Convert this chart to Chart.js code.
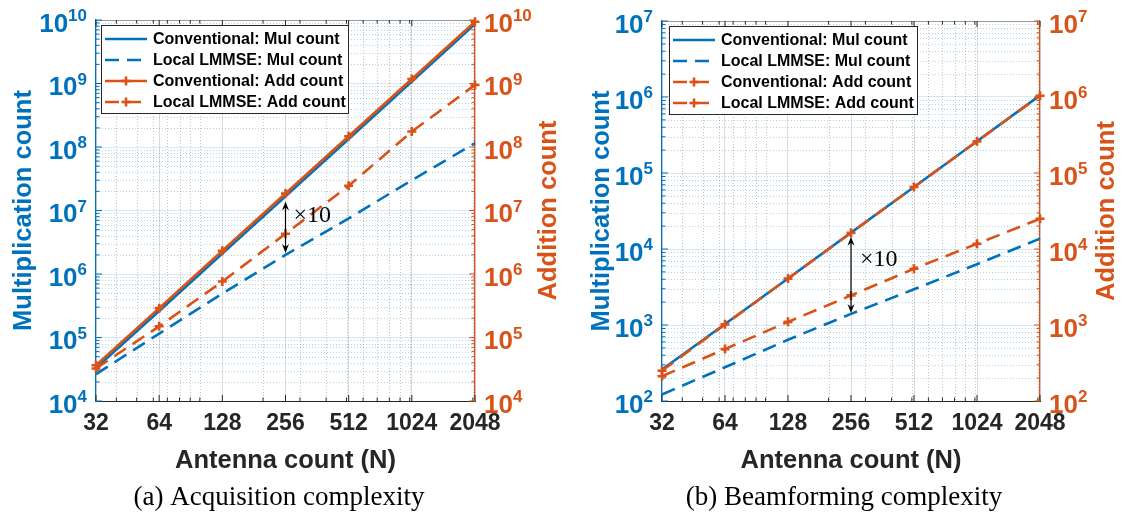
<!DOCTYPE html>
<html lang="en">
  <head>
    <meta charset="utf-8" />
    <title>Acquisition and beamforming complexity</title>
    <style>
      * {
        margin: 0;
        padding: 0;
      }
      body {
        width: 1124px;
        height: 516px;
        background: #fff;
        overflow: hidden;
      }
      .row {
        display: flex;
      }
      canvas {
        display: block;
      }
    </style>
  </head>
  <body>
    <div class="row">
      <canvas id="acq" width="562" height="516"></canvas>
      <canvas id="bf" width="562" height="516"></canvas>
    </div>

    <script src="https://cdn.jsdelivr.net/npm/chart.js@4"></script>

    <script>
      // data block
      const antennaCounts = [32, 64, 128, 256, 512, 1024, 2048];
      const seriesNames = [
        "Conventional: Mul count",
        "Local LMMSE: Mul count",
        "Conventional: Add count",
        "Local LMMSE: Add count",
      ];

      // (a) acquisition
      const acqConvMul = [3.3e4, 2.62e5, 2.1e6, 1.68e7, 1.34e8, 1.07e9, 8.6e9];
      const acqLocalMul = [2.65e4, 1.15e5, 4.9e5, 2.0e6, 7.5e6, 3.0e7, 1.15e8];
      const acqConvAdd = [3.65e4, 2.9e5, 2.32e6, 1.85e7, 1.48e8, 1.18e9, 9.4e9];
      const acqLocalAdd = [3.25e4, 1.5e5, 7.6e5, 4.3e6, 2.45e7, 1.75e8, 9.5e8];
      const acqYTicks = [1e4, 1e5, 1e6, 1e7, 1e8, 1e9, 1e10];

      // (b) beamforming
      const bfConvMul = [260, 1030, 4100, 16400, 65500, 262000, 1.05e6];
      const bfLocalMul = [122, 278, 640, 1400, 2950, 6300, 13700];
      const bfConvAdd = [250, 1020, 4080, 16300, 65300, 261000, 1.04e6];
      const bfLocalAdd = [212, 482, 1100, 2450, 5500, 11700, 25000];
      const bfYTicks = [1e2, 1e3, 1e4, 1e5, 1e6, 1e7];

      // style block
      const FONT = '"Liberation Sans", Arial, sans-serif';
      const SERIF = '"Liberation Serif", "Times New Roman", serif';
      const BLUE = "#0072BD";
      const ORANGE = "#D95319";
      const DARK = "#262626";
      const DASH = [14, 8];
      const LW = 2.6;
      const minorX = [40, 50, 60, 70, 80, 90, 100, 200, 300, 400, 500, 600, 700, 800, 900, 1000, 2000];

      const minorY = (ticks) => {
        const out = [];
        for (let i = 0; i < ticks.length - 1; i++) {
          for (let m = 2; m <= 9; m++) out.push(m * ticks[i]);
        }
        return out;
      };

      const line = (ctx, x0, y0, x1, y1) => {
        ctx.beginPath();
        ctx.moveTo(x0, y0);
        ctx.lineTo(x1, y1);
        ctx.stroke();
      };

      // 10^k label with a raised exponent
      const drawPow = (ctx, value, x, y, align, color) => {
        const base = "10";
        const sup = String(Math.round(Math.log10(value)));
        ctx.fillStyle = color;
        ctx.textAlign = "left";
        ctx.textBaseline = "alphabetic";
        ctx.font = `bold 26px ${FONT}`;
        const bw = ctx.measureText(base).width;
        ctx.font = `bold 17px ${FONT}`;
        const sw = ctx.measureText(sup).width;
        const x0 = align === "right" ? x - bw - sw : x;
        ctx.font = `bold 26px ${FONT}`;
        ctx.fillText(base, x0, y + 11.5);
        ctx.font = `bold 17px ${FONT}`;
        ctx.fillText(sup, x0 + bw, y + 1);
      };

      const arrowHead = (ctx, x, y, dir) => {
        ctx.beginPath();
        ctx.moveTo(x, y);
        ctx.lineTo(x - 3.5, y - dir * 9);
        ctx.lineTo(x, y - dir * 6);
        ctx.lineTo(x + 3.5, y - dir * 9);
        ctx.closePath();
        ctx.fill();
      };

      // decoration plugin: minor grid, inward ticks, labels, legend, arrow
      const decor = {
        id: "decor",
        beforeDatasetsDraw(chart, args, opts) {
          const {
            ctx,
            chartArea: { left, right, top, bottom },
            scales: { x, y, y1 },
          } = chart;
          ctx.save();
          ctx.lineWidth = 1;
          ctx.setLineDash([1, 2]);
          ctx.strokeStyle = "rgba(38,38,38,0.28)";
          minorX.forEach((v) => {
            const px = Math.round(x.getPixelForValue(v)) + 0.5;
            line(ctx, px, top, px, bottom);
          });
          ctx.strokeStyle = "rgba(0,114,189,0.3)";
          minorY(opts.yTicks).forEach((v) => {
            const py = Math.round(y.getPixelForValue(v)) + 0.5;
            line(ctx, left, py, right, py);
          });
          ctx.setLineDash([]);

          // top box line
          ctx.strokeStyle = "#9a9a9a";
          line(ctx, left, top + 0.5, right, top + 0.5);

          // inward ticks
          ctx.strokeStyle = DARK;
          antennaCounts.forEach((v) => {
            const px = x.getPixelForValue(v);
            line(ctx, px, bottom, px, bottom - 6);
            line(ctx, px, top, px, top + 6);
          });
          minorX.forEach((v) => {
            const px = x.getPixelForValue(v);
            line(ctx, px, bottom, px, bottom - 3.5);
            line(ctx, px, top, px, top + 3.5);
          });
          ctx.strokeStyle = BLUE;
          opts.yTicks.forEach((v) => line(ctx, left, y.getPixelForValue(v), left + 6, y.getPixelForValue(v)));
          minorY(opts.yTicks).forEach((v) => line(ctx, left, y.getPixelForValue(v), left + 3.5, y.getPixelForValue(v)));
          ctx.strokeStyle = ORANGE;
          opts.yTicks.forEach((v) => line(ctx, right, y1.getPixelForValue(v), right - 6, y1.getPixelForValue(v)));
          minorY(opts.yTicks).forEach((v) => line(ctx, right, y1.getPixelForValue(v), right - 3.5, y1.getPixelForValue(v)));
          ctx.restore();
        },
        afterDatasetsDraw(chart, args, opts) {
          const {
            ctx,
            scales: { x, y },
          } = chart;
          ctx.save();

          // x10 arrow
          const a = opts.arrow;
          const ax = x.getPixelForValue(a.n);
          const yTop = y.getPixelForValue(a.from) + a.gapTop;
          const yBot = y.getPixelForValue(a.to) - a.gapBottom;
          ctx.strokeStyle = "#000";
          ctx.fillStyle = "#000";
          ctx.lineWidth = 1.2;
          line(ctx, ax, yTop + 4, ax, yBot - 4);
          arrowHead(ctx, ax, yTop, -1);
          arrowHead(ctx, ax, yBot, 1);
          ctx.font = `24px ${SERIF}`;
          ctx.textAlign = "left";
          ctx.textBaseline = "middle";
          ctx.fillText("\u00d710", ax + a.dx, yTop + a.dy);

          // legend
          const L = opts.legend;
          ctx.fillStyle = "#fff";
          ctx.fillRect(L.x, L.y, L.w, L.h);
          ctx.strokeStyle = DARK;
          ctx.lineWidth = 1;
          ctx.strokeRect(L.x + 0.5, L.y + 0.5, L.w, L.h);
          const ds = chart.data.datasets;
          ds.forEach((d, i) => {
            const ry = L.y + 14 + i * 21;
            ctx.strokeStyle = d.borderColor;
            ctx.lineWidth = LW;
            ctx.setLineDash(d.borderDash || []);
            line(ctx, L.x + 4, ry, L.x + 46, ry);
            ctx.setLineDash([]);
            if (d.pointRadius) {
              const cx = L.x + 25;
              line(ctx, cx - 4.5, ry, cx + 4.5, ry);
              line(ctx, cx, ry - 4.5, cx, ry + 4.5);
            }
            ctx.fillStyle = "#000";
            ctx.font = `bold 16px ${FONT}`;
            ctx.textAlign = "left";
            ctx.textBaseline = "middle";
            ctx.fillText(d.label, L.x + L.textDx, ry + 1);
          });
          ctx.restore();
        },
        afterDraw(chart, args, opts) {
          const {
            ctx,
            chartArea: { left, right, top, bottom },
            scales: { y, y1 },
          } = chart;
          ctx.save();
          opts.yTicks.forEach((v) => {
            drawPow(ctx, v, left - 9, y.getPixelForValue(v), "right", BLUE);
            drawPow(ctx, v, right + 9, y1.getPixelForValue(v), "left", ORANGE);
          });

          const midY = (top + bottom) / 2;
          ctx.font = `bold 25.5px ${FONT}`;
          ctx.textAlign = "center";
          ctx.textBaseline = "middle";
          [
            [opts.leftTitleX, "Multiplication count", BLUE],
            [opts.rightTitleX, "Addition count", ORANGE],
          ].forEach(([tx, text, color]) => {
            ctx.save();
            ctx.translate(tx, midY);
            ctx.rotate(-Math.PI / 2);
            ctx.fillStyle = color;
            ctx.fillText(text, 0, 0);
            ctx.restore();
          });

          ctx.fillStyle = DARK;
          ctx.fillText("Antenna count (N)", (left + right) / 2, 461);

          ctx.fillStyle = "#000";
          ctx.font = `27px ${SERIF}`;
          ctx.fillText(opts.caption, opts.captionX, 498);
          ctx.restore();
        },
      };

      const pts = (vals) => antennaCounts.map((n, i) => ({ x: n, y: vals[i] }));

      const makeDatasets = (convMul, localMul, convAdd, localAdd, convAddDashed) => [
        { label: seriesNames[0], data: pts(convMul), yAxisID: "y", borderColor: BLUE, borderWidth: LW, pointRadius: 0, order: 4 },
        { label: seriesNames[1], data: pts(localMul), yAxisID: "y", borderColor: BLUE, borderWidth: LW, borderDash: DASH, pointRadius: 0, order: 3 },
        {
          label: seriesNames[2], data: pts(convAdd), yAxisID: "y1", borderColor: ORANGE, borderWidth: LW,
          borderDash: convAddDashed ? DASH : [], pointStyle: "cross", pointRadius: 4.5,
          pointBorderWidth: 2.6, pointBorderColor: ORANGE, order: 2,
        },
        {
          label: seriesNames[3], data: pts(localAdd), yAxisID: "y1", borderColor: ORANGE, borderWidth: LW,
          borderDash: DASH, pointStyle: "cross", pointRadius: 4.5,
          pointBorderWidth: 2.6, pointBorderColor: ORANGE, order: 1,
        },
      ];

      const makeScales = (yTicks, leftW, rightW) => {
        const yScale = (pos, w, color, grid) => ({
          type: "logarithmic",
          position: pos,
          min: yTicks[0],
          max: yTicks[yTicks.length - 1],
          afterBuildTicks: (s) => {
            s.ticks = yTicks.map((v) => ({ value: v }));
          },
          afterFit: (s) => {
            s.width = w;
          },
          ticks: { display: false },
          grid: grid
            ? { color: "rgba(0,114,189,0.16)", drawTicks: false }
            : { drawOnChartArea: false, drawTicks: false },
          border: { color: color, width: 1.2 },
        });
        return {
          x: {
            type: "logarithmic",
            min: antennaCounts[0],
            max: antennaCounts[antennaCounts.length - 1],
            afterBuildTicks: (s) => {
              s.ticks = antennaCounts.map((v) => ({ value: v }));
            },
            afterFit: (s) => {
              s.height = 115;
            },
            ticks: {
              callback: (v) => String(v),
              autoSkip: false,
              maxRotation: 0,
              padding: 9,
              color: DARK,
              font: { family: FONT, size: 23, weight: "bold" },
            },
            grid: { color: "#dcdcdc", drawTicks: false },
            border: { color: DARK, width: 1 },
          },
          y: yScale("left", leftW, BLUE, true),
          y1: yScale("right", rightW, ORANGE, false),
        };
      };

      const makeConfig = (p) => ({
        type: "line",
        data: { datasets: p.datasets },
        options: {
          responsive: false,
          animation: false,
          devicePixelRatio: 1,
          clip: false,
          elements: { line: { tension: 0 } },
          layout: { padding: { top: p.top, left: 0, right: 0, bottom: 0 } },
          scales: makeScales(p.yTicks, p.leftW, p.rightW),
          plugins: {
            legend: { display: false },
            tooltip: { enabled: false },
            decor: p.decor,
          },
        },
        plugins: [decor],
      });

      // init render block
      const acqChart = new Chart(
        document.getElementById("acq"),
        makeConfig({
          datasets: makeDatasets(acqConvMul, acqLocalMul, acqConvAdd, acqLocalAdd, false),
          yTicks: acqYTicks,
          top: 20,
          leftW: 96,
          rightW: 87,
          decor: {
            yTicks: acqYTicks,
            leftTitleX: 24,
            rightTitleX: 549,
            caption: "(a) Acquisition complexity",
            captionX: 279,
            legend: { x: 101, y: 25, w: 247, h: 88, textDx: 52 },
            arrow: { n: 256, from: acqConvAdd[3], to: acqLocalMul[3], gapTop: 8, gapBottom: 2, dx: 8, dy: 14 },
          },
        })
      );

      const bfChart = new Chart(
        document.getElementById("bf"),
        makeConfig({
          datasets: makeDatasets(bfConvMul, bfLocalMul, bfConvAdd, bfLocalAdd, true),
          yTicks: bfYTicks,
          top: 21,
          leftW: 100,
          rightW: 84,
          decor: {
            yTicks: bfYTicks,
            leftTitleX: 40,
            rightTitleX: 545,
            caption: "(b) Beamforming complexity",
            captionX: 282,
            legend: { x: 107, y: 26, w: 248, h: 88, textDx: 52 },
            arrow: { n: 256, from: bfConvAdd[3], to: bfLocalMul[3], gapTop: 4, gapBottom: 1, dx: 9, dy: 23 },
          },
        })
      );
    </script>
  </body>
</html>
